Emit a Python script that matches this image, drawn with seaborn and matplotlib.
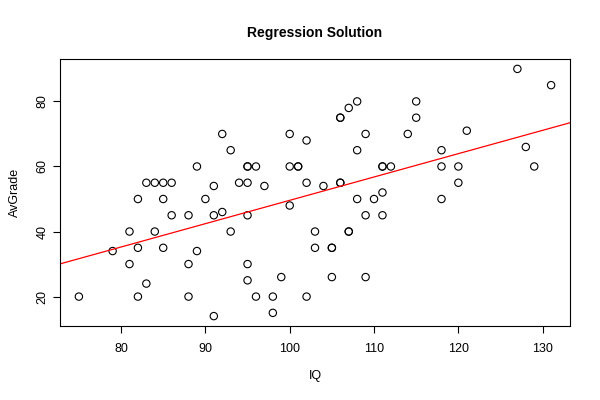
import matplotlib
matplotlib.use("Agg")
import matplotlib.pyplot as plt
import seaborn as sns
import pandas as pd

# datos
iq = [75, 79, 81, 81, 82, 82, 82, 83, 83, 84, 84, 85, 85, 85, 86, 86,
      88, 88, 88, 89, 89, 90, 91, 91, 91, 92, 92, 93, 93, 94,
      95, 95, 95, 95, 95, 95, 96, 96, 97, 98, 98, 99,
      100, 100, 100, 101, 101, 102, 102, 102, 103, 103, 104,
      105, 105, 105, 106, 106, 106, 106, 107, 107, 107,
      108, 108, 108, 109, 109, 109, 110, 111, 111, 111, 111, 112,
      114, 115, 115, 118, 118, 118, 120, 120, 121, 127, 128, 129, 131]
avgrade = [20, 34, 40, 30, 35, 50, 20, 55, 24, 55, 40, 55, 50, 35, 55, 45,
           45, 30, 20, 60, 34, 50, 54, 45, 14, 70, 46, 65, 40, 55,
           60, 60, 55, 45, 30, 25, 60, 20, 54, 20, 15, 26,
           70, 60, 48, 60, 60, 68, 55, 20, 40, 35, 54,
           35, 35, 26, 75, 75, 55, 55, 78, 40, 40,
           80, 65, 50, 70, 45, 26, 50, 60, 60, 52, 45, 60,
           70, 80, 75, 65, 60, 50, 60, 55, 71, 90, 66, 60, 85]

df = pd.DataFrame({"IQ": iq, "AvGrade": avgrade})

plt.rcParams["font.family"] = ["Liberation Sans", "DejaVu Sans"]
fig = plt.figure(figsize=(6, 4), dpi=100)
ax = fig.add_axes([0.1, 0.185, 0.85, 0.6675])

sns.scatterplot(data=df, x="IQ", y="AvGrade", ax=ax, marker="o", s=28,
                facecolors="none", edgecolor="black", linewidth=0.8)
sns.regplot(data=df, x="IQ", y="AvGrade", ax=ax, scatter=False, ci=None,
            truncate=False, color="red", line_kws={"linewidth": 0.9})

rx = max(iq) - min(iq)
ry = max(avgrade) - min(avgrade)
ax.set_xlim(min(iq) - 0.04 * rx, max(iq) + 0.04 * rx)
ax.set_ylim(min(avgrade) - 0.04 * ry, max(avgrade) + 0.04 * ry)

ax.set_xticks([80, 90, 100, 110, 120, 130])
ax.set_yticks([20, 40, 60, 80])
ax.tick_params(direction="out", length=5, width=0.8, labelsize=9, color="black")
ax.tick_params(axis="x", pad=7)
for lbl in ax.get_yticklabels():
    lbl.set_rotation(90)
    lbl.set_va("center")
for s in ax.spines.values():
    s.set_color("black")
    s.set_linewidth(0.8)

ax.set_title("Regression Solution", fontsize=10, fontweight="bold", pad=16)
ax.set_xlabel("IQ", fontsize=9, labelpad=11)
ax.set_ylabel("AvGrade", fontsize=9, labelpad=11)

plt.savefig("out.png", dpi=100)
plt.close()
